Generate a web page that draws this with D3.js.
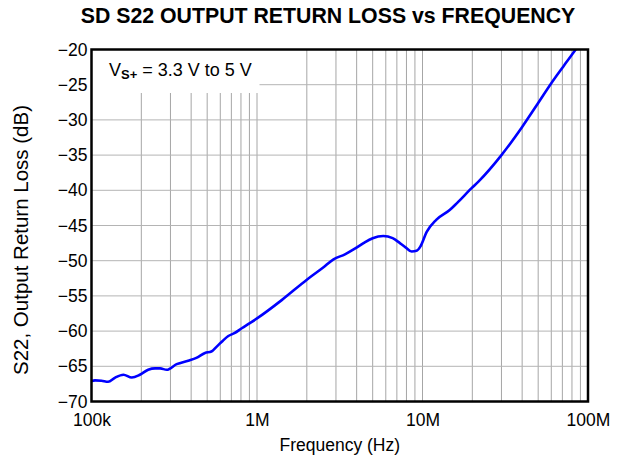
<!DOCTYPE html>
<html>
<head>
<meta charset="utf-8">
<script src="https://cdn.jsdelivr.net/npm/d3@7"></script>
<style>
  html, body { margin: 0; padding: 0; background: #fff; }
  svg { display: block; font-family: "Liberation Sans", Arial, sans-serif; }
</style>
</head>
<body>
<svg id="chart" width="623" height="459"></svg>
<script>
// S22 output return loss, read at frequency (Hz) vs dB
const freqHz = [
  1.00e5, 1.05e5, 1.15e5, 1.26e5, 1.39e5, 1.56e5, 1.75e5, 1.96e5,
  2.20e5, 2.42e5, 2.60e5, 2.85e5, 3.27e5, 3.84e5, 4.30e5, 4.85e5,
  5.30e5, 5.71e5, 6.20e5, 6.71e5, 7.30e5, 8.09e5, 9.00e5, 1.00e6,
  1.41e6, 2.00e6, 2.50e6, 2.90e6, 3.40e6, 3.90e6, 4.40e6, 5.00e6,
  5.80e6, 6.60e6, 7.30e6, 7.90e6, 8.60e6, 9.20e6, 9.70e6, 1.06e7,
  1.21e7, 1.46e7, 1.61e7, 1.98e7, 2.17e7, 3.00e7, 4.00e7, 5.00e7,
  6.00e7, 7.10e7, 8.30e7, 8.80e7
];
const s22dB = [
  -67.1, -67.0, -67.05, -67.2, -66.6, -66.2, -66.6, -66.2,
  -65.5, -65.3, -65.3, -65.5, -64.7, -64.2, -63.8, -63.1,
  -62.9, -62.2, -61.4, -60.7, -60.3, -59.6, -58.9, -58.2,
  -55.6, -52.7, -51.0, -49.8, -49.1, -48.3, -47.5, -46.8,
  -46.5, -46.8, -47.5, -48.1, -48.7, -48.6, -48.0, -45.9,
  -44.2, -42.8, -41.85, -39.7, -38.8, -35.0, -31.0, -27.6,
  -24.8, -22.4, -20.2, -19.4
];

const xTickValues = [1e5, 1e6, 1e7, 1e8];
const xTickLabels = ["100k", "1M", "10M", "100M"];
const yTickValues = [-70, -65, -60, -55, -50, -45, -40, -35, -30, -25, -20];

const titleText = "SD S22 OUTPUT RETURN LOSS vs FREQUENCY";
const xLabelText = "Frequency (Hz)";
const yLabelText = "S22, Output Return Loss (dB)";

const svg = d3.select("#chart");
const plot = { left: 91.5, right: 588, top: 49.5, bottom: 401.5 };

const x = d3.scaleLog().domain([1e5, 1e8]).range([plot.left, plot.right]);
const y = d3.scaleLinear().domain([-70, -20]).range([plot.bottom, plot.top]);

svg.append("defs").append("clipPath").attr("id", "plotClip")
  .append("rect")
  .attr("x", plot.left).attr("y", plot.top)
  .attr("width", plot.right - plot.left).attr("height", plot.bottom - plot.top);

// grid
const grid = svg.append("g");
grid.selectAll("line.v")
  .data(x.ticks().filter(d => d > 1e5 && d < 1e8))
  .join("line")
  .attr("x1", d => x(d)).attr("x2", d => x(d))
  .attr("y1", plot.top).attr("y2", plot.bottom)
  .attr("stroke", "#a6a6a6").attr("stroke-width", 1);
grid.selectAll("line.h")
  .data(yTickValues.filter(d => d > -70 && d < -20))
  .join("line")
  .attr("x1", plot.left).attr("x2", plot.right)
  .attr("y1", d => y(d)).attr("y2", d => y(d))
  .attr("stroke", "#b4b4b4").attr("stroke-width", 1);

// legend backdrop
svg.append("rect")
  .attr("x", plot.left).attr("y", plot.top)
  .attr("width", 168).attr("height", 43.5)
  .attr("fill", "#fff");

const legend = svg.append("text")
  .attr("x", 109).attr("y", 76)
  .attr("font-size", 18).attr("fill", "#000");
legend.append("tspan").text("V");
legend.append("tspan").attr("font-size", 13).attr("font-weight", "bold")
  .attr("dy", 3).text("S+");
legend.append("tspan").attr("dy", -3).text(" = 3.3 V to 5 V");

// curve
const line = d3.line()
  .x((d, i) => x(freqHz[i]))
  .y(d => y(d))
  .curve(d3.curveMonotoneX);
svg.append("path")
  .datum(s22dB)
  .attr("clip-path", "url(#plotClip)")
  .attr("d", line)
  .attr("fill", "none")
  .attr("stroke", "#0000ff")
  .attr("stroke-width", 2.6)
  .attr("stroke-linejoin", "round");

// frame
svg.append("rect")
  .attr("x", plot.left).attr("y", plot.top)
  .attr("width", plot.right - plot.left).attr("height", plot.bottom - plot.top)
  .attr("fill", "none").attr("stroke", "#000").attr("stroke-width", 2.5);

// axes
const xAxis = d3.axisBottom(x)
  .tickValues(xTickValues)
  .tickFormat((d, i) => xTickLabels[i])
  .tickSize(0).tickPadding(12);
const gx = svg.append("g")
  .attr("transform", `translate(0,${plot.bottom})`)
  .call(xAxis);
gx.select(".domain").remove();
gx.selectAll("text").attr("font-size", 17.5).attr("fill", "#000")
  .attr("font-family", "Liberation Sans, Arial, sans-serif");

const yAxis = d3.axisLeft(y)
  .tickValues(yTickValues)
  .tickFormat(d => String(d).replace("-", "\u2212"))
  .tickSize(0).tickPadding(4);
const gy = svg.append("g")
  .attr("transform", `translate(${plot.left},0)`)
  .call(yAxis);
gy.select(".domain").remove();
gy.selectAll("text").attr("font-size", 17.5).attr("fill", "#000")
  .attr("font-family", "Liberation Sans, Arial, sans-serif");

// titles
svg.append("text")
  .attr("x", 328).attr("y", 23)
  .attr("text-anchor", "middle")
  .attr("font-size", 21.3).attr("font-weight", "bold")
  .text(titleText);

svg.append("text")
  .attr("x", (plot.left + plot.right) / 2).attr("y", 451)
  .attr("text-anchor", "middle")
  .attr("font-size", 17.5)
  .text(xLabelText);

svg.append("text")
  .attr("transform", "translate(28,240) rotate(-90)")
  .attr("text-anchor", "middle")
  .attr("font-size", 20.5)
  .text(yLabelText);
</script>
</body>
</html>
